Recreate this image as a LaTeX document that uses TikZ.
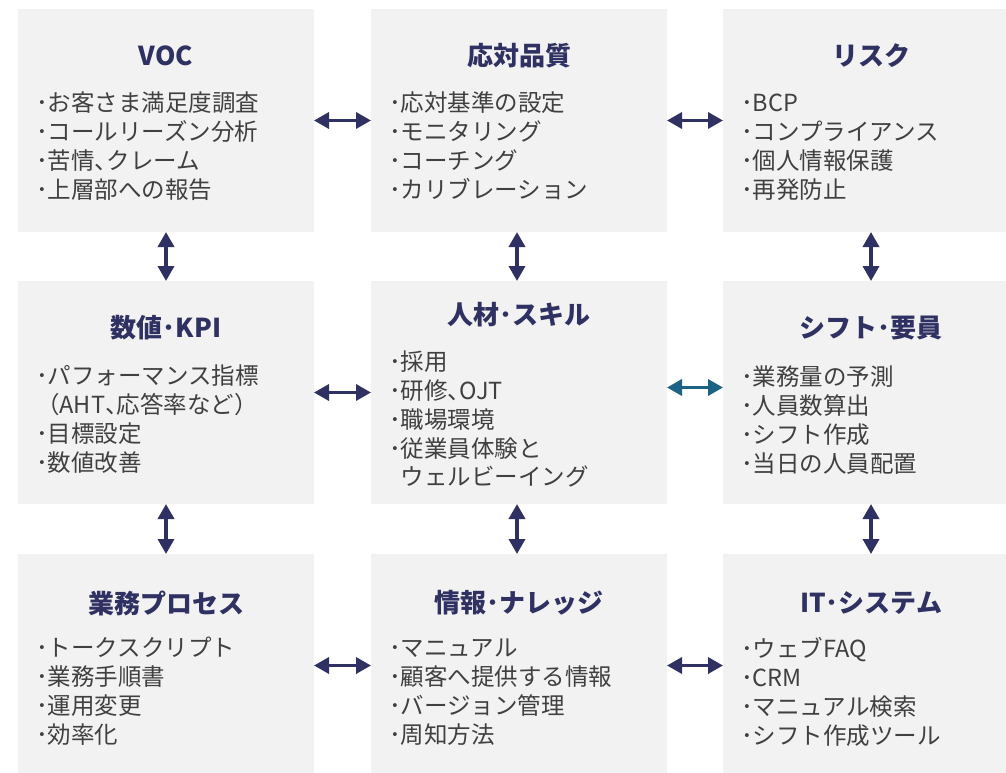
\documentclass[tikz,border=0pt]{standalone}
\usepackage{fontspec}
\setmainfont{Noto Sans CJK JP}
\usetikzlibrary{arrows.meta,calc}
\definecolor{boxgray}{HTML}{F2F2F2}
\definecolor{navy}{HTML}{2E3162}
\definecolor{tealarrow}{HTML}{1B6284}
\definecolor{bodytext}{HTML}{404040}
\newcommand{\fl}{\rule{0pt}{21pt}}
\newcommand{\tc}{{\addfontfeature{RawFeature=+halt}、}}
\begin{document}
\begin{tikzpicture}[x=1pt,y=-1pt,
 box/.style={fill=boxgray, draw=none, minimum width=296pt, minimum height=223pt, inner sep=0pt, outer sep=0pt, anchor=north west},
 ttl/.style={font=\fontsize{26}{30}\selectfont\bfseries, text=navy, inner sep=0pt},
 body/.style={font=\fontsize{23.5}{28.7}\selectfont, text=bodytext, align=left, inner sep=0pt, anchor=north west},
 biarrow/.style={draw=navy, line width=3.5pt, {Triangle[length=15pt,width=16pt]}-{Triangle[length=15pt,width=16pt]}},
 tealbiarrow/.style={biarrow, draw=tealarrow},
]
\useasboundingbox (0,0) rectangle (1006,773);
\begin{scope}
\clip (0,0) rectangle (1006,773);
\node[box] (b11) at (18,9) {};
\node[box] (b12) at (371,9) {};
\node[box] (b13) at (723,9) {};
\node[box] (b21) at (18,281) {};
\node[box] (b22) at (371,281) {};
\node[box] (b23) at (723,281) {};
\node[box] (b31) at (18,554) {};
\node[box] (b32) at (371,554) {};
\node[box] (b33) at (723,554) {};
\end{scope}

% titles
\node[ttl] (t11) at (166,56) {VOC};
\node[ttl] (t12) at (519,56) {応対品質};
\node[ttl] (t13) at (871,56) {リスク};
\node[ttl] (t21) at (166,328) {数値･KPI};
\node[ttl] (t22) at (519,315) {人材･スキル};
\node[ttl] (t23) at (871,328) {シフト･要員};
\node[ttl] (t31) at (166,603) {業務プロセス};
\node[ttl] (t32) at (519,603) {情報･ナレッジ};
\node[ttl] (t33) at (871,603) {IT･システム};

% bodies
\node[body] (l11) at (36,90.7) {\fl･お客さま満足度調査\\･コールリーズン分析\\･苦情\tc クレーム\\･上層部への報告};
\node[body] (l12) at (389,90.7) {\fl･応対基準の設定\\･モニタリング\\･コーチング\\･カリブレーション};
\node[body] (l13) at (741,90.7) {\fl･BCP\\･コンプライアンス\\･個人情報保護\\･再発防止};
\node[body] (l21) at (36,363.7) {\fl･パフォーマンス指標\\（AHT\tc 応答率など）\\･目標設定\\･数値改善};
\node[body] (l22) at (389,349.7) {\fl･採用\\･研修\tc OJT\\･職場環境\\･従業員体験と\\\phantom{･}ウェルビーイング};
\node[body] (l23) at (741,364.7) {\fl･業務量の予測\\･人員数算出\\･シフト作成\\･当日の人員配置};
\node[body] (l31) at (36,635.7) {\fl･トークスクリプト\\･業務手順書\\･運用変更\\･効率化};
\node[body] (l32) at (389,635.7) {\fl･マニュアル\\･顧客へ提供する情報\\･バージョン管理\\･周知方法};
\node[body] (l33) at (741,636.7) {\fl･ウェブFAQ\\･CRM\\･マニュアル検索\\･シフト作成ツール};

% horizontal arrows
\draw[biarrow] (b11.east) -- (b12.west);
\draw[biarrow] (b12.east) -- (b13.west);
\draw[biarrow] (b21.east) -- (b22.west);
\draw[tealbiarrow] ($(b22.east)+(0,-5)$) -- ($(b23.west)+(0,-5)$);
\draw[biarrow] (b31.east) -- (b32.west);
\draw[biarrow] (b32.east) -- (b33.west);
% vertical arrows
\draw[biarrow] (b11.south) -- (b21.north);
\draw[biarrow] ($(b12.south)+(-2,0)$) -- ($(b22.north)+(-2,0)$);
\draw[biarrow] (b13.south) -- (b23.north);
\draw[biarrow] (b21.south) -- (b31.north);
\draw[biarrow] ($(b22.south)+(-2,0)$) -- ($(b32.north)+(-2,0)$);
\draw[biarrow] (b23.south) -- (b33.north);
\end{tikzpicture}
\end{document}
